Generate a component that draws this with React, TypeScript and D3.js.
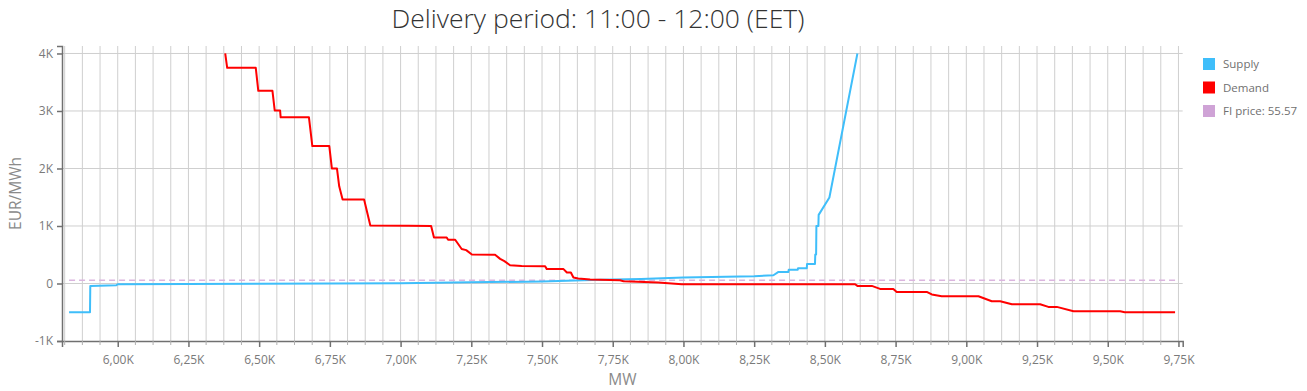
import React, { useRef, useEffect } from 'react';
import * as d3 from 'd3';

// Supply / demand curves, [MW, EUR/MWh]
const supplyCurve: [number, number][] = [
  [5828, -500], [5902, -500], [5903, -42], [5995, -30], [6000, -12],
  [6500, -5], [7000, 5], [7250, 20], [7500, 35], [7705, 63], [7850, 80],
  [8000, 104], [8150, 118], [8250, 128], [8318, 144], [8336, 202],
  [8371, 202], [8372, 237], [8404, 237], [8405, 266], [8436, 266],
  [8437, 341], [8465, 341], [8466, 504], [8469, 504], [8470, 1002],
  [8477, 1002], [8478, 1193], [8516, 1496], [8615, 4000],
];

const demandCurve: [number, number][] = [
  [6380, 4000], [6387, 3750], [6488, 3750], [6497, 3350], [6547, 3350],
  [6555, 3010], [6574, 3010], [6576, 2890], [6676, 2890], [6688, 2390],
  [6748, 2390], [6757, 2000], [6775, 2000], [6783, 1690], [6795, 1460],
  [6871, 1460], [6893, 1010], [7027, 1005], [7108, 1000], [7118, 800],
  [7163, 800], [7168, 760], [7193, 760], [7216, 600], [7232, 580],
  [7252, 505], [7334, 500], [7352, 428], [7367, 388], [7387, 318],
  [7428, 305], [7511, 300], [7517, 250], [7576, 250], [7588, 191],
  [7602, 191], [7611, 104], [7628, 87], [7670, 70], [7776, 57],
  [7788, 40], [7911, 17], [7994, -12], [8607, -12], [8615, -42],
  [8666, -42], [8695, -94], [8742, -94], [8754, -146], [8860, -146],
  [8878, -191], [8913, -221], [9043, -221], [9090, -308], [9120, -308],
  [9161, -360], [9261, -360], [9290, -407], [9320, -407], [9379, -482],
  [9544, -482], [9560, -499], [9738, -499],
];

const fiPrice = 55.57;
const xMajorTicks = [6000, 6250, 6500, 6750, 7000, 7250, 7500, 7750, 8000, 8250, 8500, 8750, 9000, 9250, 9500, 9750];
const yTicks = [-1000, 0, 1000, 2000, 3000, 4000];
const legendItems = [
  { label: 'Supply', color: '#3fbefa' },
  { label: 'Demand', color: '#ff0000' },
  { label: `FI price: ${fiPrice}`, color: '#cfa3d6' },
];

const FONT = '"Open Sans", "Segoe UI", sans-serif';

const App = () => {
  const ref = useRef<SVGSVGElement>(null);
  const width = 1307;
  const height = 391;

  useEffect(() => {
    const svg = d3.select(ref.current);
    svg.selectAll('*').remove();

    const margin = { top: 46, left: 62, right: 1182.7, bottom: 341 };

    const x = d3.scaleLinear().domain([5803, 9765]).range([margin.left, margin.right]);
    const y = d3.scaleLinear().domain([-1000, 4130]).range([margin.bottom, margin.top]);

    // minor grid every 62.5 MW
    const minor = d3.range(5812.5, 9765, 62.5);

    svg.append('g')
      .selectAll('line')
      .data(minor)
      .enter()
      .append('line')
      .attr('x1', d => x(d)).attr('x2', d => x(d))
      .attr('y1', margin.top).attr('y2', margin.bottom)
      .attr('stroke', '#cfcfcf')
      .attr('stroke-width', 1);

    svg.append('g')
      .selectAll('line')
      .data(yTicks.filter(d => d > -1000))
      .enter()
      .append('line')
      .attr('x1', margin.left).attr('x2', margin.right)
      .attr('y1', d => y(d)).attr('y2', d => y(d))
      .attr('stroke', '#cfcfcf')
      .attr('stroke-width', 1);

    // X axis
    const xAxis = d3.axisBottom(x)
      .tickValues(xMajorTicks)
      .tickSize(6)
      .tickPadding(8)
      .tickFormat(d => `${(+d / 1000).toFixed(2).replace('.', ',')}K`);

    const gx = svg.append('g')
      .attr('transform', `translate(0,${margin.bottom})`)
      .call(xAxis);
    gx.select('.domain').attr('stroke', '#707070').attr('stroke-width', 1.5);
    gx.selectAll('.tick line').attr('stroke', '#707070').attr('stroke-width', 1.5);
    gx.selectAll('text').attr('font-size', 12).attr('font-family', FONT).attr('fill', '#7a7a7a');

    svg.append('g')
      .selectAll('line')
      .data(minor.filter(d => !xMajorTicks.includes(d)))
      .enter()
      .append('line')
      .attr('x1', d => x(d)).attr('x2', d => x(d))
      .attr('y1', margin.bottom).attr('y2', margin.bottom + 4)
      .attr('stroke', '#b0b0b0');

    // Y axis
    const yAxis = d3.axisLeft(y)
      .tickValues(yTicks)
      .tickSize(5)
      .tickPadding(4)
      .tickFormat(d => (+d === 0 ? '0' : `${+d / 1000}K`));

    const gy = svg.append('g')
      .attr('transform', `translate(${margin.left},0)`)
      .call(yAxis);
    gy.select('.domain').attr('stroke', '#707070').attr('stroke-width', 1.5);
    gy.selectAll('.tick line').attr('stroke', '#707070').attr('stroke-width', 1.5);
    gy.selectAll('text').attr('font-size', 12).attr('font-family', FONT).attr('fill', '#7a7a7a');

    // FI price dashed line
    const xs = d3.extent([...supplyCurve, ...demandCurve], d => d[0]) as [number, number];
    svg.append('line')
      .attr('x1', x(xs[0])).attr('x2', x(xs[1]))
      .attr('y1', y(fiPrice)).attr('y2', y(fiPrice))
      .attr('stroke', '#dbb5df')
      .attr('stroke-width', 1.5)
      .attr('stroke-dasharray', '6,4');

    const line = d3.line<[number, number]>()
      .x(d => x(d[0]))
      .y(d => y(d[1]));

    svg.append('path')
      .datum(supplyCurve)
      .attr('fill', 'none')
      .attr('stroke', legendItems[0].color)
      .attr('stroke-width', 2)
      .attr('stroke-linejoin', 'round')
      .attr('d', line);

    svg.append('path')
      .datum(demandCurve)
      .attr('fill', 'none')
      .attr('stroke', legendItems[1].color)
      .attr('stroke-width', 2)
      .attr('stroke-linejoin', 'round')
      .attr('d', line);

    // Title and axis labels
    svg.append('text')
      .attr('x', 598).attr('y', 28)
      .attr('text-anchor', 'middle')
      .attr('font-family', FONT)
      .attr('font-weight', 300)
      .attr('font-size', 26.5)
      .attr('fill', '#333')
      .text('Delivery period: 11:00 - 12:00 (EET)');

    svg.append('text')
      .attr('transform', `translate(21,${(margin.top + margin.bottom) / 2}) rotate(-90)`)
      .attr('text-anchor', 'middle')
      .attr('font-family', FONT)
      .attr('font-size', 15.5)
      .attr('fill', '#8a8a8a')
      .text('EUR/MWh');

    svg.append('text')
      .attr('x', (margin.left + margin.right) / 2).attr('y', 385)
      .attr('text-anchor', 'middle')
      .attr('font-family', FONT)
      .attr('font-size', 15.5)
      .attr('fill', '#8a8a8a')
      .text('MW');

    // Legend
    const legend = svg.append('g').attr('transform', 'translate(1203,58)');
    legendItems.forEach((item, i) => {
      legend.append('rect')
        .attr('x', 0).attr('y', i * 23.5)
        .attr('width', 12).attr('height', 12)
        .attr('fill', item.color);
      legend.append('text')
        .attr('x', 20).attr('y', i * 23.5 + 10)
        .attr('font-family', FONT)
        .attr('font-size', 11.5)
        .attr('fill', '#707070')
        .text(item.label);
    });
  }, []);

  return (
    <svg ref={ref} width={width} height={height}
      style={{ position: 'absolute', left: 0, top: 0, display: 'block' }} />
  );
};

export default App;
